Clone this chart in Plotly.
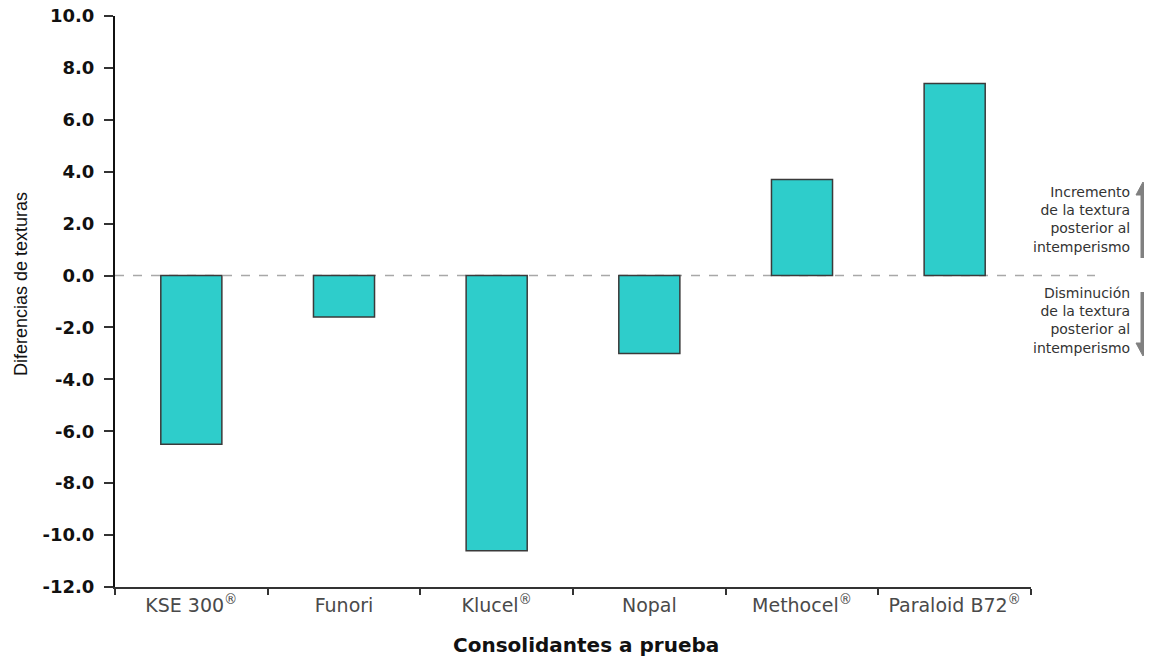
import plotly.graph_objects as go

categories = ["KSE 300<sup>®</sup>", "Funori", "Klucel<sup>®</sup>", "Nopal", "Methocel<sup>®</sup>", "Paraloid B72<sup>®</sup>"]
values = [-6.5, -1.6, -10.6, -3.0, 3.7, 7.4]
y_ticks = [10, 8, 6, 4, 2, 0, -2, -4, -6, -8, -10, -12]
y_ticktext = [f"{v:.1f}" for v in y_ticks]

W, H = 1152, 658
OFF = 8  # page body margin
PL, PR, PT, PB = 115, 1031, 16, 587  # plot area in screen pixels
L = PL - OFF
T = PT - OFF
R = W + OFF - PR
B = H + OFF - PB
pw = PR - PL
ph = PB - PT

def sx(px):
    return (px - PL) / pw

def sy(py):
    return (PB - py) / ph

fig = go.Figure()
fig.add_trace(go.Bar(
    x=categories, y=values, width=0.4,
    marker=dict(color="#2ecdcb", line=dict(color="#3a3a3a", width=1.5)),
    showlegend=False,
))

fig.add_shape(type="line", xref="paper", yref="y", x0=0, x1=sx(1095), y0=0, y1=0,
              line=dict(color="#a8a8a8", width=1.5, dash="dash"), layer="below")

ann_font = dict(family="DejaVu Sans, Verdana", size=14, color="#333333")
fig.add_annotation(xref="paper", yref="paper", x=sx(1132), y=sy(220), xanchor="right", yanchor="middle",
                   text="Incremento<br>de la textura<br>posterior al<br>intemperismo",
                   showarrow=False, align="right", font=ann_font)
fig.add_annotation(xref="paper", yref="paper", x=sx(1132), y=sy(320), xanchor="right", yanchor="middle",
                   text="Disminución<br>de la textura<br>posterior al<br>intemperismo",
                   showarrow=False, align="right", font=ann_font)

# axis titles as annotations for precise placement
fig.add_annotation(xref="paper", yref="paper", x=sx(21), y=sy(284), textangle=-90,
                   xanchor="center", yanchor="middle",
                   text="Diferencias de texturas", showarrow=False,
                   font=dict(family="Liberation Sans, Arial", size=18, color="#111111"))
fig.add_annotation(xref="paper", yref="paper", x=sx(586), y=sy(645),
                   xanchor="center", yanchor="middle",
                   text="<b>Consolidantes a prueba</b>", showarrow=False,
                   font=dict(family="DejaVu Sans, Verdana", size=20, color="#111111"))

# arrows (decorations)
arrow_col = "#808080"
ax_c = sx(1143)
hw = 7 / pw
for y_tail, y_base, y_tip in [(258, 195, 182), (292, 343, 356)]:
    fig.add_shape(type="line", xref="paper", yref="paper", x0=ax_c, x1=ax_c,
                  y0=sy(y_tail), y1=sy(y_base), line=dict(color=arrow_col, width=5))
    fig.add_shape(type="path", xref="paper", yref="paper",
                  path=f"M {ax_c - hw:.5f},{sy(y_base):.5f} L {ax_c + hw:.5f},{sy(y_base):.5f} L {ax_c:.5f},{sy(y_tip):.5f} Z",
                  fillcolor=arrow_col, line=dict(color=arrow_col, width=1))

fig.update_layout(
    width=W, height=H,
    margin=dict(l=L, r=R, t=T, b=B),
    plot_bgcolor="white", paper_bgcolor="white",
    xaxis=dict(
        automargin=False, tickangle=0,
        showline=True, linecolor="#333333", linewidth=2,
        ticks="outside", tickson="boundaries", ticklen=6, tickcolor="#333333", tickwidth=2,
        tickfont=dict(family="DejaVu Sans, Verdana", size=19, color="#4a4a4a"),
        showgrid=False,
    ),
    yaxis=dict(
        automargin=False,
        range=[-12, 10], tickvals=y_ticks, ticktext=y_ticktext,
        ticklabeloverflow="allow",
        showline=True, linecolor="#111111", linewidth=2,
        ticks="outside", ticklen=9, tickcolor="#333333", tickwidth=2,
        ticklabelstandoff=6,
        tickfont=dict(family="DejaVu Sans, Verdana", size=18, color="#111111", weight="bold"),
        showgrid=False, zeroline=False,
    ),
)

fig.write_html("out.html")
